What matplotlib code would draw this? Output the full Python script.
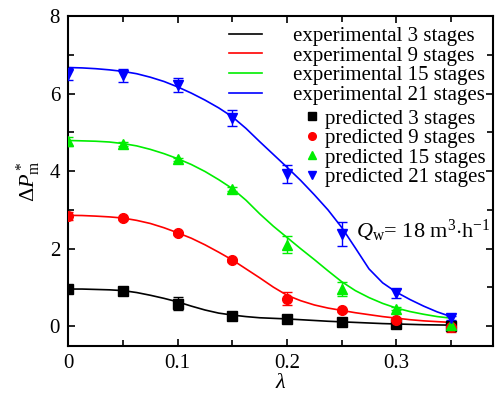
import numpy as np
import matplotlib
matplotlib.use("Agg")
import matplotlib.pyplot as plt
from matplotlib.lines import Line2D
from matplotlib.ticker import MultipleLocator, FuncFormatter

plt.rcParams['font.family'] = 'serif'
plt.rcParams['font.serif'] = ['Liberation Serif', 'Times New Roman', 'DejaVu Serif']
plt.rcParams['mathtext.fontset'] = 'custom'
plt.rcParams['mathtext.rm'] = 'Liberation Serif'
plt.rcParams['mathtext.it'] = 'Liberation Serif:italic'

stages = [3, 9, 15, 21]
colors = ['#000000', '#ff0000', '#00ee00', '#0000ff']
markers = ['s', 'o', '^', 'v']

# predicted points with error bars
lam_pts = [0, 0.05, 0.1, 0.15, 0.2, 0.25, 0.3, 0.35]
pred_3 = [0.96, 0.90, 0.58, 0.27, 0.19, 0.12, 0.05, 0.02]
pred_9 = [2.85, 2.79, 2.40, 1.70, 0.71, 0.41, 0.17, -0.01]
pred_15 = [4.77, 4.70, 4.30, 3.54, 2.10, 0.95, 0.45, 0.04]
pred_21 = [6.50, 6.47, 6.22, 5.37, 3.93, 2.39, 0.85, 0.22]
err_3 = [0.04, 0.04, 0.17, 0.04, 0.04, 0.04, 0.04, 0.04]
err_9 = [0.10, 0.04, 0.04, 0.04, 0.17, 0.04, 0.04, 0.14]
err_15 = [0.12, 0.04, 0.04, 0.04, 0.22, 0.18, 0.04, 0.10]
err_21 = [0.15, 0.17, 0.17, 0.20, 0.24, 0.31, 0.12, 0.05]

# experimental curves
lam_curve = [0, 0.0125, 0.025, 0.0375, 0.05, 0.0625, 0.075, 0.0875, 0.1,
             0.1125, 0.125, 0.1375, 0.15, 0.1625, 0.175, 0.1875, 0.2,
             0.2125, 0.225, 0.2375, 0.25, 0.2625, 0.275, 0.2875, 0.3,
             0.3125, 0.325, 0.3375, 0.35]
exp_3 = [0.96, 0.96, 0.95, 0.94, 0.92, 0.87, 0.80, 0.72, 0.63,
         0.52, 0.42, 0.34, 0.29, 0.25, 0.22, 0.205, 0.19,
         0.17, 0.15, 0.13, 0.115, 0.10, 0.085, 0.07, 0.06,
         0.05, 0.04, 0.035, 0.03]
exp_9 = [2.86, 2.855, 2.84, 2.82, 2.79, 2.73, 2.65, 2.54, 2.41,
         2.27, 2.10, 1.91, 1.71, 1.48, 1.25, 1.01, 0.80,
         0.66, 0.55, 0.47, 0.41, 0.35, 0.30, 0.25, 0.21,
         0.17, 0.14, 0.12, 0.10]
exp_15 = [4.79, 4.78, 4.77, 4.75, 4.71, 4.65, 4.56, 4.45, 4.32,
          4.17, 3.99, 3.78, 3.55, 3.25, 2.90, 2.58, 2.29,
          2.00, 1.72, 1.43, 1.15, 0.92, 0.74, 0.59, 0.47,
          0.38, 0.31, 0.25, 0.21]
exp_21 = [6.67, 6.66, 6.64, 6.61, 6.57, 6.51, 6.42, 6.31, 6.17,
          6.01, 5.83, 5.63, 5.40, 5.10, 4.76, 4.43, 4.10,
          3.76, 3.39, 3.00, 2.55, 2.02, 1.48, 1.12, 0.88,
          0.69, 0.52, 0.37, 0.25]

preds = [pred_3, pred_9, pred_15, pred_21]
errs = [err_3, err_9, err_15, err_21]
exps = [exp_3, exp_9, exp_15, exp_21]

fig = plt.figure(figsize=(4.99, 3.94), dpi=100)
ax = fig.add_axes([0.137, 0.1226, 0.85, 0.837])

line_handles = []
mark_handles = []
for s, c, m, p, e, ex in zip(stages, colors, markers, preds, errs, exps):
    ax.plot(lam_curve, ex, color=c, lw=1.2, zorder=2)
    ax.errorbar(lam_pts, p, yerr=e, fmt=m, color=c, ms=6.5 if m != 'o' else 7,
                capsize=3.5, elinewidth=1.0, capthick=1.0, zorder=3)
    line_handles.append(Line2D([], [], color=c, lw=1.2))
    mark_handles.append(Line2D([], [], color=c, marker=m, ls='none', ms=5.5))

ax.set_xlim(0, 0.388)
ax.set_ylim(-0.5, 8)
ax.xaxis.set_major_locator(MultipleLocator(0.1))
ax.xaxis.set_minor_locator(MultipleLocator(0.05))
ax.yaxis.set_major_locator(MultipleLocator(2))
ax.yaxis.set_minor_locator(MultipleLocator(1))
ax.xaxis.set_major_formatter(FuncFormatter(
    lambda v, pos: '0' if abs(v) < 1e-9 else '%.1f' % v))
ax.tick_params(which='both', direction='in', top=True, right=True,
               labelsize=15, width=1.2)
ax.tick_params(which='major', length=5, pad=6)
ax.tick_params(which='minor', length=4)
for sp in ax.spines.values():
    sp.set_linewidth(1.5)

ax.set_xlabel(r'$\lambda$', fontsize=16, labelpad=1)
ax.set_ylabel(r'$\Delta\mathit{P}_\mathrm{m}^*$', fontsize=16, labelpad=5)

leg1 = ax.legend(line_handles,
                 ['experimental %d stages' % s for s in stages],
                 loc='upper right', bbox_to_anchor=(1.0, 0.99), frameon=False,
                 fontsize=15, labelspacing=0.0, handlelength=1.6,
                 handletextpad=1.5, borderpad=0.25, borderaxespad=0.1)
ax.add_artist(leg1)
ax.legend(mark_handles, ['predicted %d stages' % s for s in stages],
          loc='upper right', bbox_to_anchor=(1.0, 0.74), frameon=False,
          fontsize=15, labelspacing=0.0, handlelength=0.6,
          handletextpad=0.3, borderpad=0.25, borderaxespad=0.1)

ax.text(0.386, 2.45, r'$\mathit{Q}_\mathrm{w}$= 18 m$^3$$\cdot$h$^{-1}$',
        fontsize=16, ha='right', va='center')

fig.savefig('out.png', dpi=100)
